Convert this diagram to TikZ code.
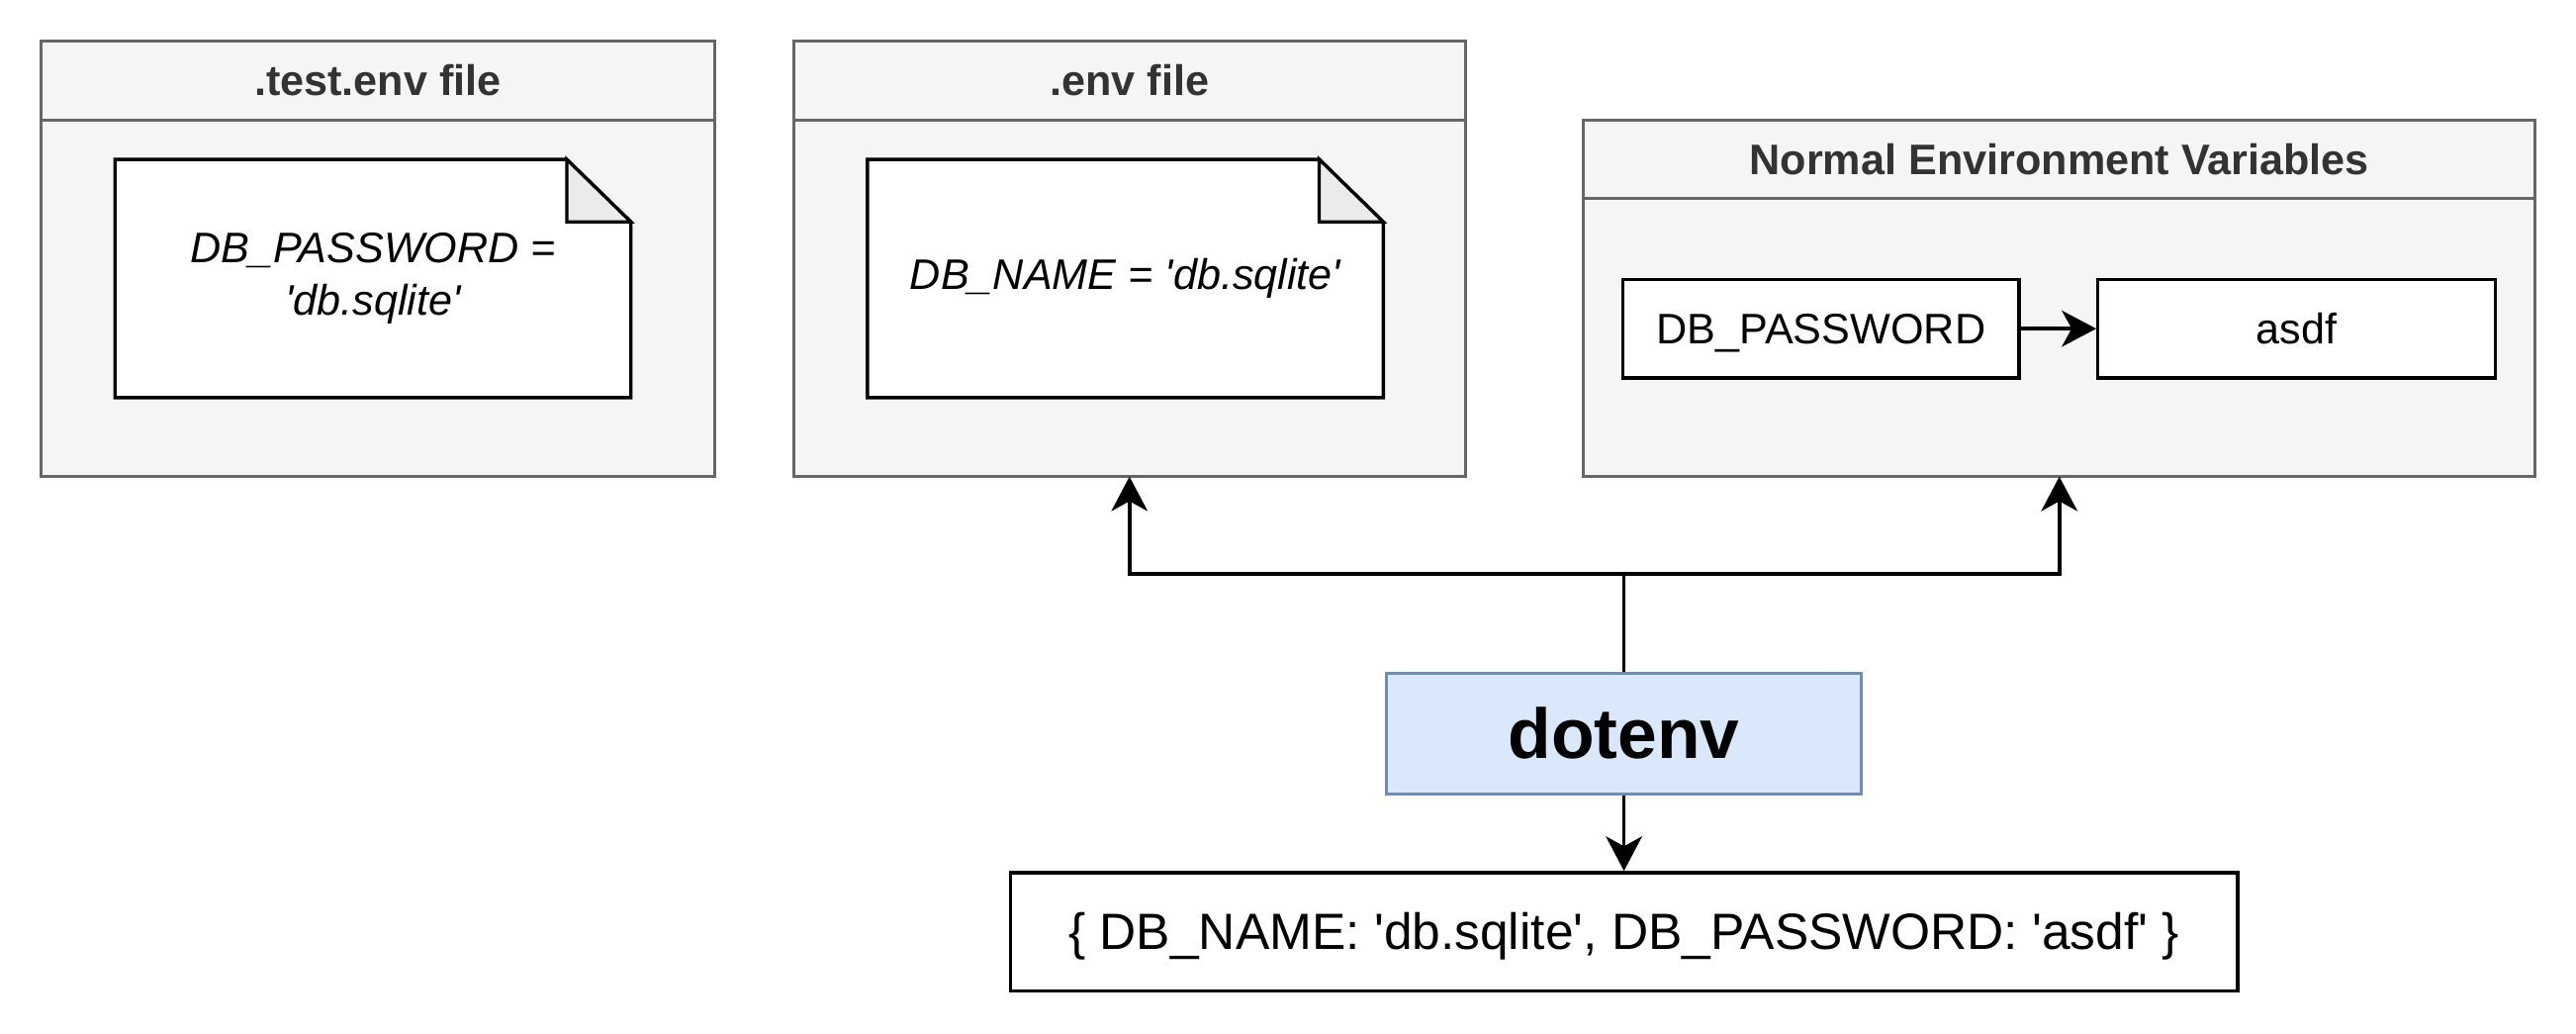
\documentclass[tikz,border=0pt]{standalone}
\usepackage{fontspec}
\setmainfont{Liberation Sans}
\usepackage{tikz}
\usetikzlibrary{arrows.meta}
\definecolor{lanegray}{HTML}{666666}
\definecolor{lanefill}{HTML}{F5F5F5}
\definecolor{titlegray}{HTML}{333333}
\definecolor{foldgray}{HTML}{EBEBEB}
\definecolor{dotblue}{HTML}{DAE8FC}
\definecolor{dotedge}{HTML}{6C8EBF}
\newcommand{\squote}{\textquotesingle}

\begin{document}
\begin{tikzpicture}[x=1pt, y=-1pt,
    lane/.style={
        draw=lanegray, line width=1.8pt,
        fill=lanefill, inner sep=0pt, outer sep=0pt
    },
    title/.style={font=\fontsize{26}{31}\selectfont\bfseries,
        text=titlegray, text height=18pt, text depth=0pt},
    note/.style={
        fill=white, inner sep=0pt, outer sep=0pt,
        minimum width=314pt, minimum height=145pt,
        align=center, font=\fontsize{26}{32}\selectfont\itshape
    },
    box/.style={
        draw, line width=2pt, fill=white, inner sep=0pt,
        minimum width=241pt, minimum height=60pt,
        text height=18pt, text depth=0pt,
        font=\fontsize{26}{31}\selectfont
    },
    arr/.style={-{Stealth[length=21pt, width=22pt, inset=6pt]},
        line width=2.2pt}
]
\useasboundingbox (0,0) rectangle (1568,629);

% containers
\node[lane, minimum width=410pt, minimum height=265pt] (testenv) at (230,157.5) {};
\node[lane, minimum width=409pt, minimum height=265pt] (envfile) at (687.5,157.5) {};
\node[lane, minimum width=579pt, minimum height=217pt] (normalenv) at (1253.5,181.5) {};
\foreach \n in {testenv, envfile, normalenv}
    \draw[lanegray, line width=1.8pt] ([yshift=-48pt]\n.north west)
        -- ([yshift=-48pt]\n.north east);
\node[title] (testtitle) at (230,49) {.test.env file};
\node[title] (envtitle) at (687.5,49) {.env file};
\node[title] (normaltitle) at (1253.5,97) {Normal Environment Variables};

% env files
\node[note] (passnote) at (227,169.5) {DB\_PASSWORD =\\ \squote db.sqlite\squote};
\node[note] (namenote) at (685,169.5) {DB\_NAME = \squote db.sqlite\squote};
\foreach \n in {passnote, namenote} {
    \fill[lanefill] ([xshift=-39pt]\n.north east) -- (\n.north east)
        -- ([yshift=-38pt]\n.north east) -- cycle;
    \draw[line width=2pt] (\n.north west) -- ([xshift=-39pt]\n.north east)
        -- ([yshift=-38pt]\n.north east) -- (\n.south east)
        -- (\n.south west) -- cycle;
    \draw[line width=2pt, fill=foldgray] ([xshift=-39pt]\n.north east)
        |- ([yshift=-38pt]\n.north east) -- cycle;
}

% normal variables
\node[box] (pwdkey) at (1108.5,200) {DB\_PASSWORD};
\node[box, minimum width=242pt] (pwdval) at (1398,200) {asdf};
\draw[arr] (pwdkey) -- (pwdval);

% dotenv and result
\node[box, draw=dotedge, fill=dotblue, line width=1.8pt,
    minimum width=289pt, minimum height=73pt, text height=30pt,
    font=\fontsize{43}{50}\selectfont\bfseries] (dotenv) at (988.5,446.5) {dotenv};
\node[box, minimum width=747pt, minimum height=72pt, text height=22pt,
    font=\fontsize{31}{37}\selectfont] (result) at (988.5,567)
    {\{ DB\_NAME: \squote db.sqlite\squote, DB\_PASSWORD: \squote asdf\squote\ \}};

\coordinate (split) at ([yshift=60pt]dotenv.north);
\draw[line width=2.2pt] (dotenv.north) -- (split);
\draw[arr] (split) -| (envfile.south);
\draw[arr] (split) -| (normalenv.south);
\draw[arr] (dotenv) -- (result);
\end{tikzpicture}
\end{document}
